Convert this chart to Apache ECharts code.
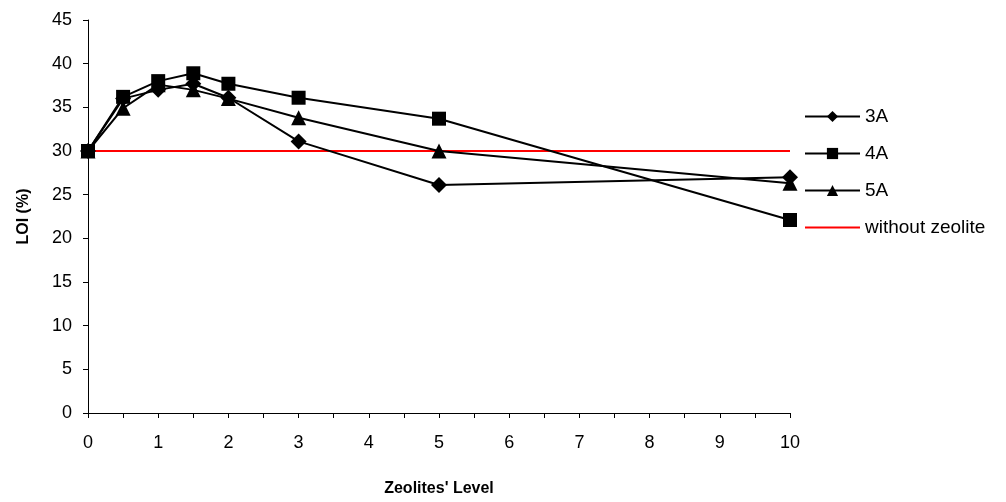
<!DOCTYPE html>
<html>
<head>
<meta charset="utf-8">
<script src="https://cdn.jsdelivr.net/npm/echarts@6/dist/echarts.min.js"></script>
<style>
  html, body { margin: 0; padding: 0; background: #fff; }
  #chart { width: 1006px; height: 502px; }
</style>
</head>
<body>
<div id="chart"></div>
<script>
const levels = [0, 0.5, 1, 1.5, 2, 3, 5, 10]
const loi3A = [30, 36.0, 37.0, 37.7, 36.1, 31.1, 26.1, 27.0]
const loi4A = [30, 36.2, 38.0, 38.9, 37.7, 36.1, 33.7, 22.1]
const loi5A = [30, 34.9, 37.6, 37.0, 36.0, 33.8, 30.0, 26.3]
const baseline = [[0, 30], [10, 30]]

const font = 'Liberation Sans, Arial, sans-serif'

function pairs(values) {
  return levels.map((x, i) => [x, values[i]])
}

function markerSeries(name, values, symbol, size) {
  return {
    name,
    type: 'line',
    data: pairs(values),
    symbol,
    symbolSize: size,
    lineStyle: { color: '#000', width: 2 },
    itemStyle: { color: '#000' },
    z: 3
  }
}

const chart = echarts.init(document.getElementById('chart'))
chart.setOption({
  animation: false,
  textStyle: { fontFamily: font },
  grid: { left: 88, right: 216, top: 20, bottom: 89 },
  legend: {
    orient: 'vertical',
    left: 799,
    top: 102,
    itemWidth: 55,
    itemHeight: 14,
    itemGap: 18,
    textStyle: { color: '#000', fontSize: 19, fontFamily: font },
    data: ['3A', '4A', '5A', { name: 'without zeolite', itemStyle: { opacity: 0 } }]
  },
  xAxis: {
    type: 'value',
    min: 0,
    max: 10,
    interval: 1,
    name: "Zeolites' Level",
    nameLocation: 'middle',
    nameGap: 68,
    nameTextStyle: { color: '#000', fontSize: 16, fontWeight: 'bold', fontFamily: font },
    axisLine: { lineStyle: { color: '#000', width: 1 } },
    axisTick: { show: true, length: 5, lineStyle: { color: '#000' } },
    minorTick: { show: true, splitNumber: 2, length: 5, lineStyle: { color: '#000' } },
    axisLabel: { color: '#000', fontSize: 18, margin: 21, fontFamily: font },
    splitLine: { show: false }
  },
  yAxis: {
    type: 'value',
    min: 0,
    max: 45,
    interval: 5,
    name: 'LOI (%)',
    nameLocation: 'middle',
    nameGap: 56,
    nameRotate: 90,
    nameTextStyle: { color: '#000', fontSize: 16, fontWeight: 'bold', fontFamily: font },
    axisLine: { show: true, lineStyle: { color: '#000', width: 1 } },
    axisTick: { show: true, length: 5, lineStyle: { color: '#000' } },
    axisLabel: { color: '#000', fontSize: 18, margin: 16, fontFamily: font },
    splitLine: { show: false }
  },
  series: [
    {
      name: 'without zeolite',
      type: 'line',
      data: baseline,
      symbol: 'none',
      lineStyle: { color: '#ff0000', width: 2 },
      itemStyle: { color: '#ff0000' },
      z: 2
    },
    markerSeries('3A', loi3A, 'diamond', 16),
    markerSeries('4A', loi4A, 'rect', 14),
    markerSeries('5A', loi5A, 'triangle', 15)
  ]
})
</script>
</body>
</html>
